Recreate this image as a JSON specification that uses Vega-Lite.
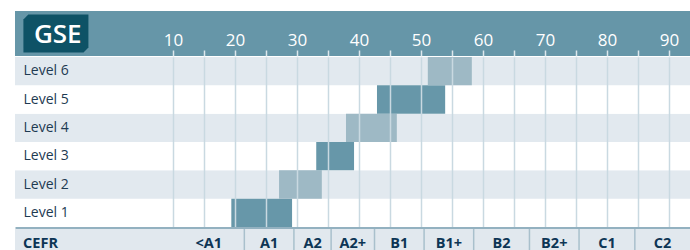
{
  "$schema": "https://vega.github.io/schema/vega-lite/v6.json",
  "padding": {"left": 15, "top": 11, "right": 0, "bottom": 0},
  "spacing": 0,
  "background": "white",
  "config": {"view": {"stroke": null}, "font": "Open Sans"},
  "datasets": {
    "levels": [
      {"level": "Level 1", "start": 19.4, "end": 29.2},
      {"level": "Level 2", "start": 27.1, "end": 34.0},
      {"level": "Level 3", "start": 33.1, "end": 39.2},
      {"level": "Level 4", "start": 37.9, "end": 46.1},
      {"level": "Level 5", "start": 42.9, "end": 53.9},
      {"level": "Level 6", "start": 51.1, "end": 58.2}
    ],
    "cefr": [
      {"cefr": "<A1", "from": 10, "to": 21.5},
      {"cefr": "A1", "from": 21.5, "to": 29.5},
      {"cefr": "A2", "from": 29.5, "to": 35.5},
      {"cefr": "A2+", "from": 35.5, "to": 42.5},
      {"cefr": "B1", "from": 42.5, "to": 50.5},
      {"cefr": "B1+", "from": 50.5, "to": 58.5},
      {"cefr": "B2", "from": 58.5, "to": 67.5},
      {"cefr": "B2+", "from": 67.5, "to": 75.5},
      {"cefr": "C1", "from": 75.5, "to": 84.5},
      {"cefr": "C2", "from": 84.5, "to": 93.4}
    ]
  },
  "vconcat": [
    {
      "width": 675,
      "height": 45,
      "view": {"fill": "#6696a8", "stroke": null},
      "data": {"values": [{"logo": "GSE"}]},
      "layer": [
        {
          "mark": {"type": "point", "shape": "M -0.85 -0.585 L 1 -0.585 L 1 0.43 L 0.85 0.585 L -1 0.585 L -1 -0.43 Z", "size": 4225, "filled": true, "fill": "#0e5266", "opacity": 1, "strokeWidth": 0},
          "encoding": {
            "x": {
              "datum": -8.9,
              "type": "quantitative",
              "scale": {"domain": [-15.5, 93.4], "nice": false, "zero": false},
              "axis": {
                "orient": "top",
                "offset": -45,
                "values": [10, 15, 20, 25, 30, 35, 40, 45, 50, 55, 60, 65, 70, 75, 80, 85, 90],
                "labelExpr": "datum.value % 10 === 0 ? datum.label : ''",
                "title": null,
                "domain": false,
                "grid": false,
                "ticks": true,
                "tickColor": "#dde7ec",
                "tickSize": 6,
                "tickWidth": 1.5,
                "labelColor": "#ffffff",
                "labelFont": "Open Sans",
                "labelFontSize": 17,
                "labelPadding": 5,
                "labelBaseline": "alphabetic",
                "labelOverlap": false,
                "labelFlush": false,
                "zindex": 1
              }
            }
          }
        },
        {
          "mark": {"type": "text", "color": "#ffffff", "font": "Open Sans", "fontSize": 26, "fontWeight": 600, "baseline": "alphabetic", "dy": 9, "align": "center"},
          "encoding": {
            "x": {"datum": -8.6, "type": "quantitative"},
            "text": {"field": "logo"}
          }
        }
      ]
    },
    {
      "width": 675,
      "height": 170,
      "data": {"name": "levels"},
      "encoding": {
        "y": {
          "field": "level",
          "type": "nominal",
          "sort": ["Level 6", "Level 5", "Level 4", "Level 3", "Level 2", "Level 1"],
          "scale": {"paddingInner": 0, "paddingOuter": 0},
          "axis": {
            "orient": "left",
            "offset": -8,
            "title": null,
            "domain": false,
            "ticks": false,
            "tickSize": 0,
            "labelAlign": "left",
            "labelPadding": 0,
            "labelFont": "Open Sans",
            "labelFontSize": 14,
            "labelColor": "#1e3a52",
            "labelBaseline": "middle",
            "zindex": 1
          }
        }
      },
      "layer": [
        {
          "mark": {"type": "rect"},
          "encoding": {
            "fill": {
              "condition": {"test": "indexof(['Level 6','Level 4','Level 2'], datum.level) >= 0", "value": "#e2e9ef"},
              "value": "#ffffff"
            }
          }
        },
        {
          "mark": {"type": "rect"},
          "encoding": {
            "x": {
              "field": "start",
              "type": "quantitative",
              "scale": {"domain": [-15.5, 93.4], "nice": false, "zero": false},
              "axis": {
                "orient": "bottom",
                "values": [10, 15, 20, 25, 30, 35, 40, 45, 50, 55, 60, 65, 70, 75, 80, 85, 90],
                "title": null,
                "labels": false,
                "ticks": false,
                "grid": true,
                "gridColor": "#c9d9e1",
                "gridWidth": 1.5,
                "domain": true,
                "domainColor": "#93b1c0",
                "domainWidth": 3,
                "offset": 1,
                "zindex": 1
              }
            },
            "x2": {"field": "end"},
            "fill": {
              "condition": {"test": "indexof(['Level 6','Level 4','Level 2'], datum.level) >= 0", "value": "#9eb9c5"},
              "value": "#6797a9"
            }
          }
        }
      ]
    },
    {
      "width": 675,
      "height": 21,
      "view": {"fill": "#e1e8ee", "stroke": null},
      "data": {"name": "cefr"},
      "layer": [
        {
          "transform": [{"filter": "datum.from > 10"}],
          "mark": {"type": "rule", "color": "#a9c0cc", "strokeWidth": 1.5},
          "encoding": {
            "x": {
              "field": "from",
              "type": "quantitative",
              "scale": {"domain": [-15.5, 93.4], "nice": false, "zero": false},
              "axis": null
            }
          }
        },
        {
          "transform": [{"calculate": "(datum.from + datum.to) / 2", "as": "mid"}],
          "mark": {"type": "text", "font": "Open Sans", "fontSize": 14.5, "fontWeight": "bold", "color": "#0d3555", "baseline": "middle", "dy": 4, "align": "center"},
          "encoding": {
            "x": {"field": "mid", "type": "quantitative"},
            "text": {"field": "cefr"}
          }
        },
        {
          "data": {"values": [{"label": "CEFR"}]},
          "mark": {"type": "text", "font": "Open Sans", "fontSize": 14.5, "fontWeight": "bold", "color": "#0d3555", "baseline": "middle", "dy": 4, "align": "left"},
          "encoding": {
            "x": {"datum": -14.2, "type": "quantitative"},
            "text": {"field": "label"}
          }
        }
      ]
    }
  ]
}
